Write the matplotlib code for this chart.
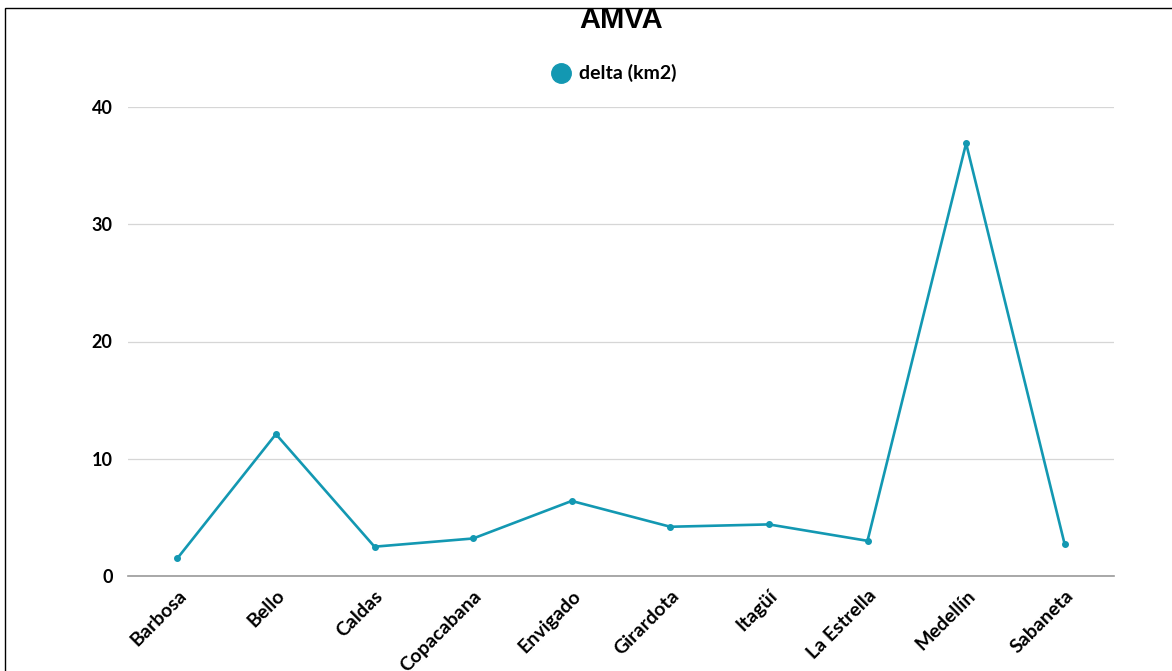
import matplotlib.pyplot as plt
from matplotlib.patches import Rectangle
from matplotlib.lines import Line2D

# ---------------------------------------------------------------------------
# Data
# ---------------------------------------------------------------------------
municipios = ["Barbosa", "Bello", "Caldas", "Copacabana", "Envigado",
              "Girardota", "Itagüí", "La Estrella", "Medellín", "Sabaneta"]
delta_km2 = [1.5, 12.1, 2.5, 3.2, 6.4, 4.2, 4.4, 3.0, 36.9, 2.7]
y_ticks = [0, 10, 20, 30, 40]

TEAL = "#1398b2"
W, H = 1172, 671

fig = plt.figure(figsize=(W / 100, H / 100), dpi=100)
ax = fig.add_axes([128 / W, 1 - 576 / H, (1114 - 128) / W, (576 - 107) / H])

x = list(range(len(municipios)))
ax.plot(x, delta_km2, color=TEAL, linewidth=1.9, marker="o",
        markersize=4, zorder=3, clip_on=False)

ax.set_xlim(-0.5, len(municipios) - 0.5)
ax.set_ylim(0, 40)
ax.set_yticks(y_ticks)
ax.set_xticks(x)
ax.set_xticklabels(municipios, rotation=45, ha="right", rotation_mode="anchor",
                   fontfamily="Lato", fontweight="bold", fontsize=14)
for lab in ax.get_yticklabels():
    lab.set_fontfamily("Lato")
    lab.set_fontweight("bold")
    lab.set_fontsize(13)

ax.grid(axis="y", color="#d6d6d6", linewidth=0.9)
ax.set_axisbelow(True)
for side in ("top", "right", "left"):
    ax.spines[side].set_visible(False)
ax.spines["bottom"].set_color("#9a9a9a")
ax.spines["bottom"].set_linewidth(1.2)
ax.tick_params(axis="both", length=0)
ax.tick_params(axis="y", pad=11)
ax.tick_params(axis="x", pad=8)

# title and legend
fig.text(621 / W, 1 - 20 / H, "AMVA", ha="center", va="center",
         fontfamily="Liberation Sans", fontweight="bold", fontsize=21)
fig.add_artist(Line2D([561 / W], [1 - 73 / H], marker="o", markersize=14,
                      color=TEAL, linestyle="none", transform=fig.transFigure))
fig.text(579 / W, 1 - 73 / H, "delta (km2)", ha="left", va="center",
         fontfamily="Lato", fontweight="bold", fontsize=14)

# outer frame, cut by the right and bottom edges
fig.add_artist(Rectangle((5 / W, -0.1), 1.2, 1 - 8 / H + 0.1, fill=False,
                         edgecolor="black", linewidth=1.0,
                         transform=fig.transFigure))

fig.savefig("out.png", dpi=100)
